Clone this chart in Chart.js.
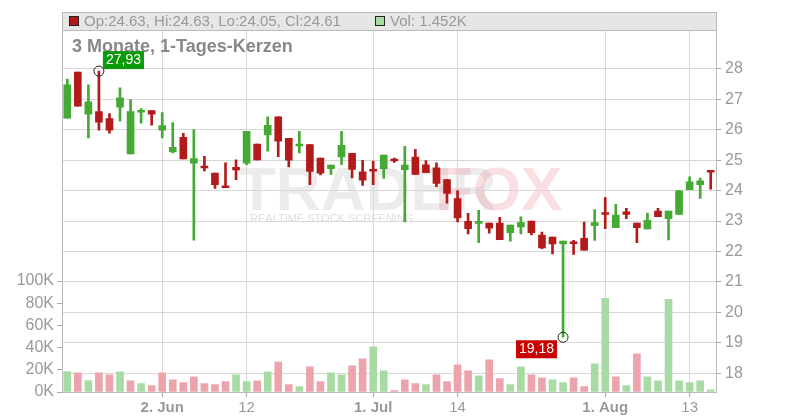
<!DOCTYPE html>
<html lang="de">
<head>
<meta charset="UTF-8" />
<title>Kerzenchart</title>
<script src="https://cdn.jsdelivr.net/npm/chart.js"></script>
<style>
  body { margin: 0; background: #fff; }
  #wrap { width: 800px; height: 420px; }
</style>
</head>
<body>
<div id="wrap"><canvas id="chart"></canvas></div>
<script>
// daily candles
const opens  = [26.38,27.9,26.51,26.6,26.37,26.74,25.21,26.58,26.63,25.99,25.27,25.75,24.9,24.8,24.58,24.13,24.77,24.9,25.53,25.83,26.43,25.72,25.47,25.51,25.07,24.72,25.11,25.23,24.62,24.68,24.72,25.04,24.69,25.1,24.85,24.75,24.36,23.74,22.99,22.92,22.93,22.93,22.62,22.81,23.0,22.54,22.47,22.25,22.32,22.43,22.85,23.27,22.78,23.3,22.93,22.74,23.33,23.08,23.22,24.03,24.2,24.63];
const highs  = [27.67,27.9,27.48,27.93,26.53,27.38,26.99,26.7,26.63,26.57,26.24,25.88,26.01,25.13,24.58,24.91,25.01,25.95,25.53,26.43,26.43,25.72,25.95,25.51,25.07,24.84,25.95,25.23,25.0,24.97,25.17,25.07,25.46,25.36,24.99,24.91,24.36,24.0,23.25,23.35,22.93,23.12,22.87,23.14,23.0,22.64,22.47,22.34,22.37,22.97,23.38,23.77,23.55,23.42,22.93,23.26,23.42,23.33,24.01,24.45,24.41,24.63];
const lows   = [26.38,26.78,25.73,25.99,25.89,26.28,25.21,26.22,26.15,25.73,25.24,25.04,22.37,24.65,24.07,24.1,24.36,24.85,25.01,25.3,25.12,24.78,25.24,24.2,24.52,24.53,24.85,24.42,24.17,24.2,24.4,24.93,22.97,24.53,24.59,24.13,23.59,22.97,22.58,22.29,22.6,22.39,22.34,22.58,22.54,22.09,21.92,19.18,21.9,22.04,22.36,22.75,22.78,23.08,22.29,22.74,23.14,22.38,23.22,24.03,23.74,24.05];
const closes = [27.48,26.78,26.92,26.25,25.99,27.05,26.6,26.63,26.51,26.14,25.42,25.04,25.05,24.75,24.2,24.1,24.68,25.95,25.01,26.15,25.63,25.0,25.49,24.63,24.57,24.84,25.49,24.7,24.34,24.64,25.17,24.98,24.84,24.53,24.59,24.24,23.91,23.1,22.75,22.99,22.77,22.39,22.87,22.95,22.62,22.12,22.25,22.34,22.26,22.04,22.95,23.22,23.2,23.22,22.78,23.02,23.14,23.33,23.99,24.29,24.32,24.61];
// volume in thousands
const volumes = [18.5,17.3,10.4,17.3,15.5,18.2,10,7.5,5.7,17.3,11,8.4,13.7,7.5,6.6,9.3,15.5,9.3,10,18.2,27,6.6,4.8,22.7,9.3,17.3,15.5,23.6,29.9,40.6,19.1,1.2,11,7.5,6.6,15.5,9.3,24.5,19.1,14.6,29,12,6.6,22.7,15.5,12.8,11,8.4,12.8,4.8,25.4,84.5,13.7,5.7,34.3,13.7,10,83.6,10,8.4,10,2];
const volUp = [1,0,1,0,0,1,0,1,0,0,0,0,0,0,0,0,1,1,0,1,0,0,1,0,0,1,1,0,0,1,1,0,0,0,1,0,0,0,0,1,0,0,1,1,0,0,1,1,0,0,1,1,0,1,0,1,1,1,1,1,1,1];
const xTicks = { 9: '2. Jun', 17: '12', 29: '1. Jul', 37: '14', 51: '1. Aug', 59: '13' };
const boldTicks = [9, 29, 51];
const hiIndex = 3, loIndex = 47;

const labels = opens.map((_, i) => i);
const RED = '#b31b1b', GREEN = '#44aa33';
const candleColors = opens.map((o, i) => closes[i] >= o ? GREEN : RED);
const bodies = opens.map((o, i) => {
  let a = Math.min(o, closes[i]), b = Math.max(o, closes[i]);
  if (b - a < 0.06) b = a + 0.06;
  return [a, b];
});
const wicks = lows.map((l, i) => [l, highs[i]]);

const overlay = {
  id: 'overlay',
  beforeDraw(chart) {
    const { ctx, chartArea: a } = chart;
    ctx.save();
    ctx.font = 'bold 62px "Liberation Sans", Arial, sans-serif';
    ctx.fillStyle = 'rgba(200,200,200,0.35)';
    ctx.textBaseline = 'middle';
    ctx.fillText('TRADER', 238, 193);
    ctx.fillStyle = 'rgba(240,150,160,0.3)';
    ctx.fillText('FOX', 435, 193);
    ctx.font = '11px "Liberation Sans", Arial, sans-serif';
    ctx.fillStyle = 'rgba(190,190,190,0.5)';
    ctx.fillText('REALTIME STOCK SCREENING', 250, 219);
    ctx.restore();
  },
  afterDraw(chart) {
    const { ctx, chartArea: a, scales } = chart;
    ctx.save();
    // header band
    ctx.fillStyle = '#e6e6e6';
    ctx.fillRect(a.left, 12, a.right - a.left, 18);
    ctx.strokeStyle = '#bbb';
    ctx.strokeRect(a.left + 0.5, 12.5, a.right - a.left, 18);
    ctx.fillStyle = RED; ctx.strokeStyle = '#222';
    ctx.fillRect(69, 16, 10, 10); ctx.strokeRect(69.5, 16.5, 9, 9);
    ctx.fillStyle = '#a8dba3';
    ctx.fillRect(375, 16, 10, 10); ctx.strokeRect(375.5, 16.5, 9, 9);
    ctx.font = '15px "Liberation Sans", Arial, sans-serif';
    ctx.fillStyle = '#999'; ctx.textBaseline = 'middle';
    ctx.fillText('Op:24.63, Hi:24.63, Lo:24.05, Cl:24.61', 84, 22);
    ctx.fillText('Vol: 1.452K', 390, 22);
    ctx.font = 'bold 18px "Liberation Sans", Arial, sans-serif';
    ctx.fillStyle = '#888';
    ctx.fillText('3 Monate, 1-Tages-Kerzen', 72, 47);
    // high / low markers
    const x = scales.x, y = scales.y;
    const mark = (i, v, txt, bg, dx, dy) => {
      const px = x.getPixelForValue(i), py = y.getPixelForValue(v);
      ctx.beginPath(); ctx.arc(px, py, 5, 0, Math.PI * 2);
      ctx.strokeStyle = '#222'; ctx.lineWidth = 1; ctx.stroke();
      ctx.font = '14px "Liberation Sans", Arial, sans-serif';
      const w = ctx.measureText(txt).width + 6;
      ctx.fillStyle = bg; ctx.fillRect(px + dx, py + dy, w, 18);
      ctx.fillStyle = '#fff'; ctx.fillText(txt, px + dx + 3, py + dy + 9);
    };
    mark(hiIndex, highs[hiIndex], '27,93', '#0a9a0a', 4, -20);
    mark(loIndex, lows[loIndex], '19,18', '#cc0000', -47, 3);
    ctx.restore();
  }
};

new Chart(document.getElementById('chart'), {
  data: {
    labels,
    datasets: [
      { type: 'bar', data: volumes, yAxisID: 'vol', barThickness: 7, grouped: false, order: 3,
        backgroundColor: volUp.map(u => u ? '#a8dba3' : '#eda3ab') },
      { type: 'bar', data: wicks, yAxisID: 'y', barThickness: 2, grouped: false, order: 2,
        backgroundColor: candleColors },
      { type: 'bar', data: bodies, yAxisID: 'y', barThickness: 7, grouped: false, order: 1,
        backgroundColor: candleColors }
    ]
  },
  options: {
    animation: false,
    responsive: true,
    maintainAspectRatio: false,
    layout: { padding: { top: 10, right: 0, left: 0, bottom: 0 } },
    plugins: { legend: { display: false }, tooltip: { enabled: false } },
    scales: {
      x: {
        offset: true,
        grid: {
          offset: false,
          color: ctx => xTicks[ctx.index] ? '#d8d8d8' : 'transparent',
          tickColor: ctx => xTicks[ctx.index] ? '#aaa' : 'transparent',
          tickLength: 5
        },
        border: { color: '#bbb' },
        ticks: {
          autoSkip: false, maxRotation: 0, color: '#999', padding: 2,
          callback: (v, i) => xTicks[i] || '',
          font: ctx => ({ family: '"Liberation Sans", Arial, sans-serif', size: 15,
            weight: boldTicks.includes(ctx.index) ? 'bold' : 'normal' })
        },
        afterFit: s => { s.height = 28; }
      },
      y: {
        position: 'right', min: 17.38, max: 29.82,
        afterBuildTicks: s => { s.ticks = [18,19,20,21,22,23,24,25,26,27,28].map(v => ({ value: v })); },
        grid: { color: '#d8d8d8', tickColor: '#aaa', tickLength: 5 },
        border: { color: '#bbb' },
        ticks: { color: '#999', padding: 4, font: { family: '"Liberation Sans", Arial, sans-serif', size: 16 } },
        afterFit: s => { s.width = 84; }
      },
      vol: {
        position: 'left', min: 0, max: 341,
        afterBuildTicks: s => { s.ticks = [0,20,40,60,80,100].map(v => ({ value: v })); },
        grid: { drawOnChartArea: false, tickColor: '#aaa', tickLength: 5 },
        border: { color: '#bbb' },
        ticks: { color: '#999', padding: 3, callback: v => v + 'K',
          font: { family: '"Liberation Sans", Arial, sans-serif', size: 16 } },
        afterFit: s => { s.width = 62; }
      }
    }
  },
  plugins: [overlay]
});
</script>
</body>
</html>
